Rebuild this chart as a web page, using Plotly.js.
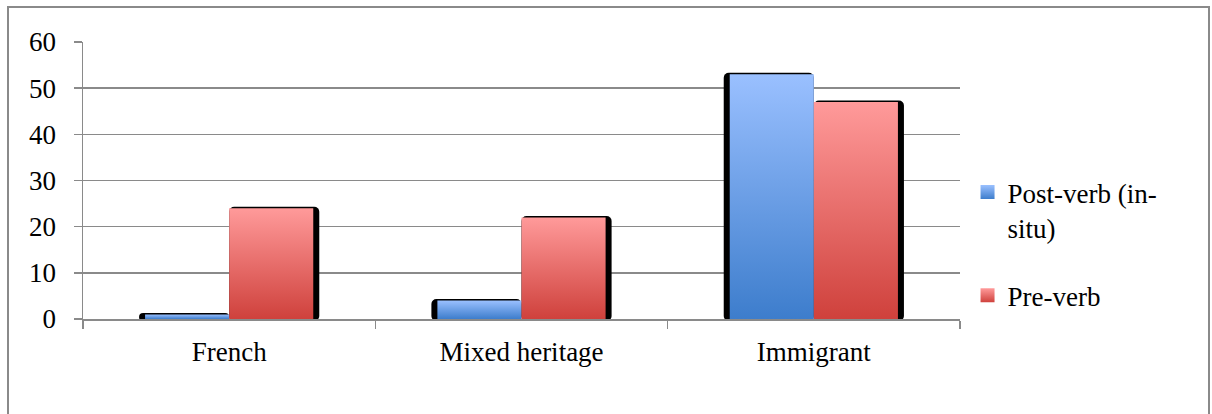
<!DOCTYPE html>
<html>
<head>
<meta charset="utf-8">
<script src="https://cdn.plot.ly/plotly-3.0.1.min.js"></script>
<style>
  html, body { margin: 0; padding: 0; background: #fff; }
  #frame { position: absolute; left: 7px; top: 6px; width: 1203px; height: 430px; border: 2px solid #8a8a8a; box-sizing: border-box; }
  #chart { position: absolute; left: 0; top: 0; width: 1212px; height: 414px; }
</style>
</head>
<body>
<div id="frame"></div>
<div id="chart"></div>
<script>
// ---- data ----
const categories = ["French", "Mixed heritage", "Immigrant"];
const postVerb = [1, 4, 53];
const preVerb = [24, 22, 47];
const seriesNames = ["Post-verb (in-<br>situ)", "Pre-verb"];
const yTicks = [0, 10, 20, 30, 40, 50, 60];

// ---- styling (pixel-based conversions) ----
const catPx = 292;           // pixels per category
const barW = 84 / catPx;     // bar width in category units
const shW = 6 / catPx;       // shadow spread
const pxPerUnit = 277 / 60;
const shTop = 1.5 / pxPerUnit;
const shBottom = 2 / pxPerUnit;

const font = { family: "Liberation Serif", size: 27, color: "#000" };

const shadowBlue = {
  type: "bar", x: categories, y: postVerb.map(v => v + shTop + shBottom), base: -shBottom,
  width: barW + shW, offset: -barW - shW, marker: { color: "#000", cornerradius: 5 },
  showlegend: false, hoverinfo: "skip"
};
const shadowRed = {
  type: "bar", x: categories, y: preVerb.map(v => v + shTop + shBottom), base: -shBottom,
  width: barW + shW, offset: 0, marker: { color: "#000", cornerradius: 5 },
  showlegend: false, hoverinfo: "skip"
};
const blue = {
  type: "bar", name: seriesNames[0], x: categories, y: postVerb,
  width: barW, offset: -barW, marker: { color: "#6a9be6", line: { width: 0 } },
  legendgroup: "a"
};
const red = {
  type: "bar", name: seriesNames[1], x: categories, y: preVerb,
  width: barW, offset: 0, marker: { color: "#e26b68", line: { width: 0 } },
  legendgroup: "b"
};

const layout = {
  width: 1212, height: 414,
  margin: { l: 83, r: 252, t: 42, b: 95 },
  paper_bgcolor: "rgba(0,0,0,0)", plot_bgcolor: "rgba(0,0,0,0)",
  barmode: "overlay",
  font: font,
  showlegend: true,
  legend: {
    x: 1.0086, xanchor: "left", y: 0.545, yanchor: "top", valign: "top",
    font: font, traceorder: "grouped", tracegroupgap: 30,
    itemwidth: 30, bgcolor: "rgba(0,0,0,0)"
  },
  xaxis: {
    type: "category", range: [-0.5, 2.5], tickson: "boundaries",
    ticks: "outside", ticklen: 8, tickwidth: 1.5, tickcolor: "#8a8a8a",
    showline: true, linecolor: "#8a8a8a", linewidth: 2,
    showgrid: false, tickfont: font, ticklabelstandoff: 8
  },
  yaxis: {
    range: [0, 60], tickvals: yTicks, ticktext: yTicks.map(String),
    ticks: "outside", ticklen: 8, tickwidth: 1.5, tickcolor: "#8a8a8a",
    showline: true, linecolor: "#8a8a8a", linewidth: 1.5,
    showgrid: true, gridcolor: "#8a8a8a", gridwidth: 1.5,
    zeroline: false, tickfont: font, ticklabelstandoff: 12
  }
};

function applyGradients(gd) {
  const svg = gd.querySelector("svg.main-svg");
  const ns = "http://www.w3.org/2000/svg";
  let defs = svg.querySelector("defs");
  if (!defs) { defs = document.createElementNS(ns, "defs"); svg.insertBefore(defs, svg.firstChild); }
  function mk(id, top, bottom) {
    const g = document.createElementNS(ns, "linearGradient");
    g.setAttribute("id", id);
    g.setAttribute("x1", "0"); g.setAttribute("y1", "0");
    g.setAttribute("x2", "0"); g.setAttribute("y2", "1");
    const s1 = document.createElementNS(ns, "stop");
    s1.setAttribute("offset", "0"); s1.setAttribute("stop-color", top);
    const s2 = document.createElementNS(ns, "stop");
    s2.setAttribute("offset", "1"); s2.setAttribute("stop-color", bottom);
    g.appendChild(s1); g.appendChild(s2); defs.appendChild(g);
  }
  mk("gradBlue", "#9ac0ff", "#3d7dcc");
  mk("gradRed", "#ff9a9a", "#cf413c");
  const traces = gd.querySelectorAll(".barlayer .trace");
  const fills = [null, null, "url(#gradBlue)", "url(#gradRed)"];
  traces.forEach((t, i) => {
    if (!fills[i]) return;
    t.querySelectorAll("path").forEach(p => { p.style.fill = fills[i]; });
  });
  const leg = gd.querySelectorAll(".legend .traces");
  const legFills = ["url(#gradBlue)", "url(#gradRed)"];
  leg.forEach((t, i) => {
    t.querySelectorAll(".legendpoints path").forEach(p => {
      p.setAttribute("d", "M7,7H-7V-7H7Z");
      p.style.fill = legFills[i];
      p.style.stroke = "none";
    });
  });
}

Plotly.newPlot("chart", [shadowBlue, shadowRed, blue, red], layout, { displayModeBar: false, staticPlot: true })
  .then(gd => applyGradients(gd));
</script>
</body>
</html>
